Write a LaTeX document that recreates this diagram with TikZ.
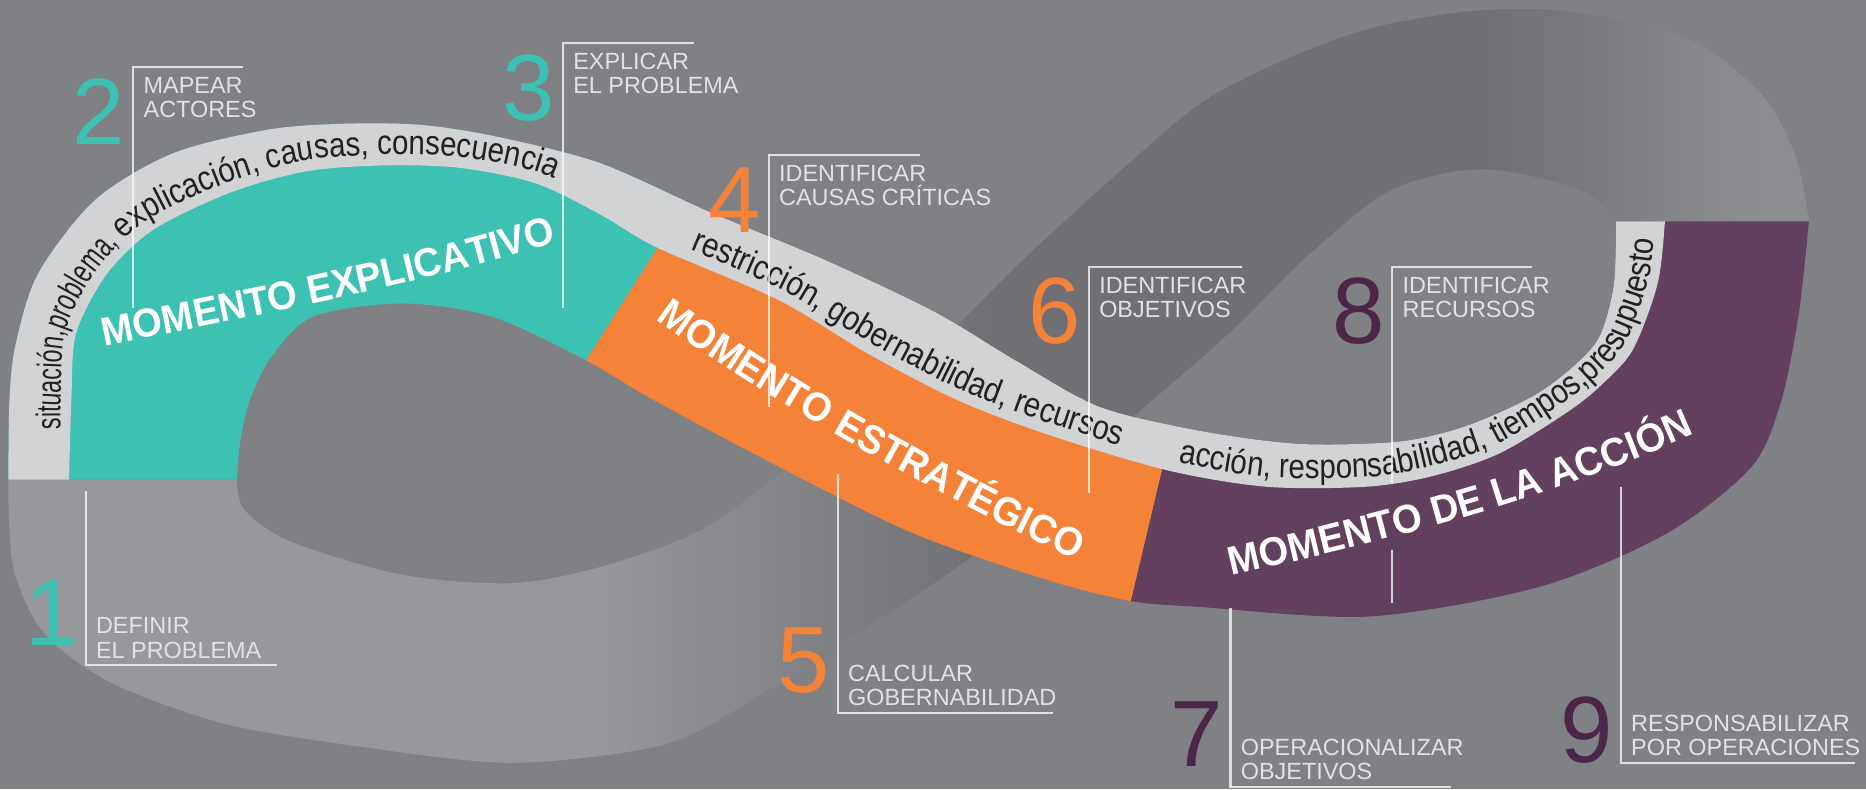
\documentclass[tikz,border=0pt]{standalone}
\usepackage{fontspec}
\setmainfont{Liberation Sans}
\newfontfamily\momfont[FakeStretch=0.95]{Liberation Sans}
\newfontfamily\stripfont[FakeStretch=0.86]{Liberation Sans}
\newfontfamily\stripfonttight[FakeStretch=0.68]{Liberation Sans}
\usetikzlibrary{decorations.text}

\definecolor{bgc}{RGB}{128,129,133}
\definecolor{banddark}{RGB}{112,112,116}
\definecolor{bandlight}{RGB}{151,152,155}
\definecolor{bandend}{RGB}{141,142,146}
\definecolor{stripc}{RGB}{209,211,212}
\definecolor{stripink}{RGB}{35,31,32}
\definecolor{tealc}{RGB}{61,193,179}
\definecolor{orangec}{RGB}{244,130,57}
\definecolor{purplec}{RGB}{99,64,93}
\definecolor{numpurple}{RGB}{75,38,71}
\definecolor{labelc}{RGB}{226,226,228}

\tikzset{
    callout/.style={white, opacity=0.75, line width=0.5pt},
    stepnum/.style={anchor=base east, inner sep=0pt, font=\fontsize{22.5}{22.5}\selectfont},
    steptext/.style={inner sep=0pt, align=left, text=labelc, font=\fontsize{5.6}{5.8}\selectfont},
    striptext/.style={decorate, decoration={text along path, text color=stripink,
        text={|\stripfont\fontsize{8.2}{9}\selectfont|#1}}},
    momtext/.style={decorate, decoration={text along path, text color=white,
        text={|\momfont\bfseries\fontsize{9.6}{10}\selectfont|#1}}}
}

\begin{document}
\begin{tikzpicture}[x=0.1mm, y=-0.1mm]
    \useasboundingbox (0,0) rectangle (1568,663);
    \fill[bgc] (0,0) rectangle (1568,663);

    % back part of the loop
    \begin{scope}
        \clip plot[smooth] coordinates {(199,403) (205,428) (244,455) (338,483) (431,490) (506,476) (588,446) (655,398) (720,342) (788,289) (860,218) (939,146) (1010,86) (1080,50) (1151,24) (1230,10) (1300,8) (1380,20) (1436,42) (1485,85) (1510,135) (1520,186)}
            -- plot[smooth] coordinates {(1358,186) (1340,166) (1311,154) (1260,143) (1222,144) (1180,155) (1148,173) (1092,221) (1036,277) (955,348) (890,405) (816,468) (742,518) (645,580) (560,625) (431,641) (300,627) (188,608) (94,574) (37,532) (11,476) (7,403)}
            -- cycle;
        \fill[bandlight] (0,0) rectangle (501,663);
        \shade[left color=bandlight, right color=banddark] (500,0) rectangle (831,663);
        \fill[banddark] (830,0) rectangle (1251,663);
        \shade[left color=banddark, right color=bandend] (1250,0) rectangle (1481,663);
        \fill[bandend] (1480,0) rectangle (1568,663);
    \end{scope}

    % front ribbon
    \begin{scope}
        \clip plot[smooth] coordinates {(7,403) (8,336) (13,290) (32,230) (80,168) (145,129) (225,109) (289,104) (354,105) (418,115) (504,137) (598,179) (692,218) (785,262) (855,304) (924,342) (1008,362) (1092,373) (1176,371) (1232,358) (1288,333) (1322,308) (1344,283) (1356,240) (1358,186)}
            -- plot[smooth] coordinates {(1520,186) (1512,260) (1497,336) (1472,392) (1401,448) (1294,493) (1151,518) (1008,510) (950,505) (879,487) (767,448) (654,392) (549,336) (491,302) (413,266) (338,255) (263,266) (228,300) (210,336) (202,370) (199,403)}
            -- cycle;
        \fill[tealc] (0,0) -- (684,0) -- (265,663) -- (0,663) -- cycle;
        \fill[orangec] (684,0) -- (1070,0) -- (913,663) -- (265,663) -- cycle;
        \fill[purplec] (1070,0) -- (1568,0) -- (1568,663) -- (913,663) -- cycle;
    \end{scope}

    % light strip
    \fill[stripc] plot[smooth] coordinates {(7,403) (8,336) (13,290) (32,230) (80,168) (145,129) (225,109) (289,104) (354,105) (418,115) (504,137) (598,179) (692,218) (785,262) (855,304) (924,342) (1008,362) (1092,373) (1176,371) (1232,358) (1288,333) (1322,308) (1344,283) (1356,240) (1358,186)}
        -- plot[smooth] coordinates {(1399,186) (1393,238) (1372,294) (1344,325) (1316,347) (1260,381) (1204,400) (1148,409) (1064,409) (980,395) (880,365) (804,336) (729,297) (654,252) (552,208) (504,180) (450,154) (386,141) (322,139) (257,144) (193,162) (129,193) (90,230) (64,280) (60,336) (58,403)}
        -- cycle;

    \path[striptext={|\stripfonttight\fontsize{8.2}{9}\selectfont|situación,problema, |\stripfont\fontsize{8.2}{9}\selectfont|explicación, causas, consecuencia}]
        plot[smooth] coordinates {(51,361) (51,336) (55,278) (83,225) (124,185) (190,154) (255,135) (322,130) (387,132) (453,145) (508,172) (556,200) (600,222)};
    \path[striptext={restricción, gobernabilidad, recursos}]
        plot[smooth] coordinates {(580,210) (658,244) (733,289) (808,328) (883,356) (982,387) (1010,392)};
    \path[striptext={acción, responsabilidad, tiempos,presupuesto}]
        plot[smooth] coordinates {(990,389) (1065,401) (1147,401) (1202,392) (1257,374) (1312,340) (1339,319) (1365,290) (1385,236) (1391,185) (1392,165)};

    % steps with the bracket on top
    \foreach \n/\col/\lx/\ytop/\ybot/\xend/\txt in {
        2/tealc/112/56/259/204/{MAPEAR\\ACTORES},
        3/tealc/473/36/259/583/{EXPLICAR\\EL PROBLEMA},
        4/orangec/646/130/342/773/{IDENTIFICAR\\CAUSAS CRÍTICAS},
        6/orangec/915/224/414/1044/{IDENTIFICAR\\OBJETIVOS},
        8/numpurple/1170/224/406/1287/{IDENTIFICAR\\RECURSOS}}{
            \draw[callout] (\lx,\ybot) -- (\lx,\ytop) -- (\xend,\ytop);
            \node[stepnum, text=\col] (num\n) at ({\lx-6},{\ytop+65}) {\n};
            \node[steptext, anchor=north west] (lab\n) at ({\lx+8},{\ytop+8}) {\txt};
        }
    \draw[callout] (1170,462) -- (1170,507);

    % steps with the bracket below
    \foreach \n/\col/\lx/\ytop/\ybot/\xend/\dd/\txt in {
        1/tealc/72/413/559/233/17/{DEFINIR\\EL PROBLEMA},
        5/orangec/704/398/599/885/17/{CALCULAR\\GOBERNABILIDAD},
        7/numpurple/1034/511/661/1219/17/{OPERACIONALIZAR\\OBJETIVOS},
        9/numpurple/1362/409/641/1559/0/{RESPONSABILIZAR\\POR OPERACIONES}}{
            \draw[callout] (\lx,\ytop) -- (\lx,\ybot) -- (\xend,\ybot);
            \node[stepnum, text=\col] (num\n) at ({\lx-6},{\ybot-\dd}) {\n};
            \node[steptext, anchor=south west] (lab\n) at ({\lx+8},{\ybot-5}) {\txt};
        }

    % the three moments
    \path[momtext={MOMENTO EXPLICATIVO}] (88,291) .. controls (210,266) and (340,243) .. (490,197);
    \path[momtext={MOMENTO ESTRATÉGICO}] (551,268) .. controls (650,340) and (790,418) .. (920,478);
    \path[momtext={MOMENTO DE LA ACCIÓN}] (1035,484) .. controls (1160,455) and (1290,425) .. (1430,362);
\end{tikzpicture}
\end{document}
